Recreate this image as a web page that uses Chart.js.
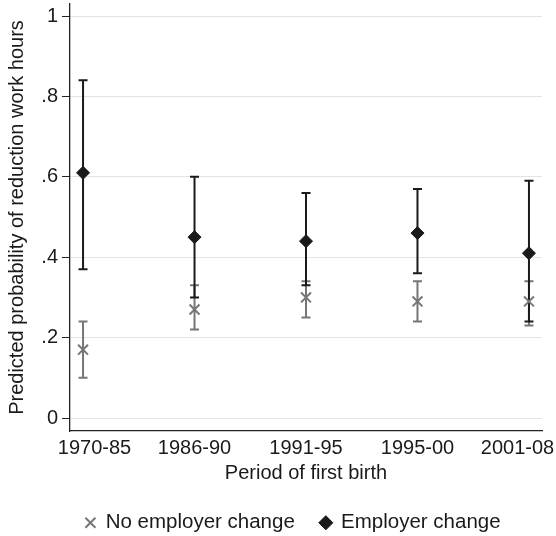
<!DOCTYPE html>
<html>
<head>
<meta charset="utf-8">
<script src="https://cdn.jsdelivr.net/npm/chart.js@4.4.1/dist/chart.umd.min.js"></script>
<style>
  html, body { margin: 0; padding: 0; background: #ffffff; }
  #wrap { width: 556px; height: 536px; position: relative; }
</style>
</head>
<body>
<div id="wrap"><canvas id="c"></canvas></div>
<script>
// Period of first birth (x categories)
const periods = ['1970-85', '1986-90', '1991-95', '1995-00', '2001-08'];

// Y axis ticks
const yTickValues = [0, 0.2, 0.4, 0.6, 0.8, 1];
const yTickLabels = ['0', '.2', '.4', '.6', '.8', '1'];

// No employer change: predicted probability and 95% CI
const noChangeEst  = [0.17, 0.27, 0.30, 0.29, 0.29];
const noChangeLow  = [0.10, 0.22, 0.25, 0.24, 0.23];
const noChangeHigh = [0.24, 0.33, 0.34, 0.34, 0.34];

// Employer change: predicted probability and 95% CI
const changeEst  = [0.61, 0.45, 0.44, 0.46, 0.41];
const changeLow  = [0.37, 0.30, 0.33, 0.36, 0.24];
const changeHigh = [0.84, 0.60, 0.56, 0.57, 0.59];

// End labels sit a little inward so they stay inside the graph
const xLabelNudge = [0.103, 0, 0, 0, -0.103];

const GREY = '#767676';
const BLACK = '#1a1a1a';
const TEXT = '#1a1a1a';

const toPoints = (vals) => vals.map((v, i) => ({ x: i, y: v }));

// Vertical range caps drawn through the chart's own scales
const rangeCaps = {
  id: 'rangeCaps',
  beforeDatasetsDraw(chart) {
    const { ctx, scales: { x, y } } = chart;
    const sets = [
      { low: noChangeLow, high: noChangeHigh, color: GREY },
      { low: changeLow, high: changeHigh, color: BLACK }
    ];
    ctx.save();
    ctx.lineCap = 'butt';
    sets.forEach(s => {
      ctx.strokeStyle = s.color;
      ctx.lineWidth = 2;
      s.low.forEach((lo, i) => {
        const px = x.getPixelForValue(i);
        const y1 = y.getPixelForValue(lo);
        const y2 = y.getPixelForValue(s.high[i]);
        ctx.beginPath();
        ctx.moveTo(px, y1);
        ctx.lineTo(px, y2);
        ctx.moveTo(px - 4.5, y1);
        ctx.lineTo(px + 4.5, y1);
        ctx.moveTo(px - 4.5, y2);
        ctx.lineTo(px + 4.5, y2);
        ctx.stroke();
      });
    });
    ctx.restore();
  }
};

// Move the legend block right and down
const legendOffset = {
  id: 'legendOffset',
  afterLayout(chart) {
    const lg = chart.legend;
    if (!lg) return;
    lg.left += 22; lg.right += 22;
    lg.top += 7; lg.bottom += 7;
  }
};

Chart.defaults.font.family = '"Liberation Sans", Arial, Helvetica, sans-serif';
Chart.defaults.color = TEXT;

new Chart(document.getElementById('c'), {
  type: 'scatter',
  data: {
    datasets: [
      {
        label: 'No employer change',
        data: toPoints(noChangeEst),
        pointStyle: 'crossRot',
        pointRadius: 7,
        pointBorderWidth: 2,
        borderColor: GREY,
        backgroundColor: GREY,
        borderWidth: 2
      },
      {
        label: 'Employer change',
        data: toPoints(changeEst),
        pointStyle: 'rectRot',
        pointRadius: 6.5,
        pointBorderWidth: 1,
        borderColor: BLACK,
        backgroundColor: BLACK,
        borderWidth: 1
      }
    ]
  },
  options: {
    responsive: true,
    maintainAspectRatio: false,
    animation: false,
    layout: { autoPadding: false, padding: { top: 4, right: 14, left: 0, bottom: 0 } },
    plugins: {
      tooltip: { enabled: false },
      legend: {
        position: 'bottom',
        labels: {
          usePointStyle: true,
          boxWidth: 10,
          boxHeight: 10,
          padding: 26,
          color: TEXT,
          font: { size: 20.5 }
        }
      }
    },
    scales: {
      x: {
        type: 'linear',
        min: -0.117,
        max: 4.117,
        afterBuildTicks(scale) {
          scale.ticks = periods.map((p, i) => ({ value: i + xLabelNudge[i] }));
        },
        afterFit(scale) {
          scale.height = 48.5;
          scale.paddingLeft = 0;
          scale.paddingRight = 0;
        },
        ticks: {
          autoSkip: false,
          maxRotation: 0,
          padding: 5,
          color: TEXT,
          font: { size: 20 },
          callback: (v) => periods[Math.round(v)]
        },
        grid: { display: true, drawOnChartArea: false, drawTicks: false },
        border: { display: true, color: '#222222', width: 1.3 },
        title: {
          display: true,
          text: 'Period of first birth',
          color: TEXT,
          font: { size: 20 },
          padding: { top: 0, bottom: -6 }
        }
      },
      y: {
        type: 'linear',
        min: -0.0323,
        max: 1.03,
        afterBuildTicks(scale) {
          scale.ticks = yTickValues.map(v => ({ value: v }));
        },
        afterFit(scale) {
          scale.width = 70;
          scale.paddingTop = 0;
          scale.paddingBottom = 0;
        },
        ticks: {
          padding: 4,
          color: TEXT,
          font: { size: 20 },
          callback: (v) => {
            const k = yTickValues.findIndex(t => Math.abs(t - v) < 1e-9);
            return k >= 0 ? yTickLabels[k] : '';
          }
        },
        grid: {
          color: '#e3e3e3',
          lineWidth: 1,
          tickColor: '#222222',
          tickLength: 8,
          drawTicks: true
        },
        border: { display: true, color: '#222222', width: 1.3 },
        title: {
          display: true,
          text: 'Predicted probability of reduction work hours',
          color: TEXT,
          font: { size: 20 },
          padding: { top: 5, bottom: 0 }
        }
      }
    }
  },
  plugins: [rangeCaps, legendOffset]
});
</script>
</body>
</html>
